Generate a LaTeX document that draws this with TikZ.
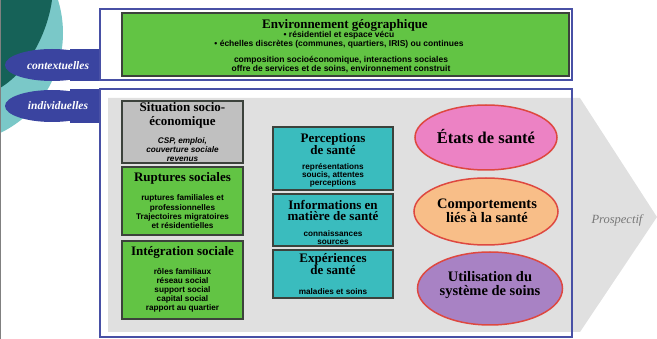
\documentclass[tikz,border=0pt]{standalone}
\usepackage{fontspec}
\setmainfont{Liberation Serif}
\newfontfamily\sansfam{Liberation Sans}
\usetikzlibrary{shapes.geometric}
\definecolor{tealdark}{RGB}{22,98,88}
\definecolor{teallight}{RGB}{122,200,200}
\definecolor{tabblue}{RGB}{58,68,160}
\definecolor{boxblue}{RGB}{72,80,165}
\definecolor{envgreen}{RGB}{98,196,68}
\definecolor{boxgray}{RGB}{192,192,192}
\definecolor{boxcyan}{RGB}{58,188,190}
\definecolor{arrowgray}{RGB}{224,224,224}
\definecolor{ellpink}{RGB}{236,130,196}
\definecolor{ellorange}{RGB}{248,190,136}
\definecolor{ellpurple}{RGB}{168,130,196}
\definecolor{ellborder}{RGB}{222,72,64}
\definecolor{boxedge}{RGB}{60,66,60}
\definecolor{progray}{RGB}{120,120,120}
\tikzset{
  panel/.style={draw=boxblue, line width=2.5pt, inner sep=0pt},
  cbox/.style={draw=boxedge, line width=1.1pt, inner sep=0pt},
  ttl/.style={font=\bfseries\fontsize{13}{14}\selectfont, align=center, inner sep=0pt},
  bdy/.style={font=\sansfam\bfseries\fontsize{8.2}{9}\selectfont, align=center, inner sep=0pt},
  ell/.style={ellipse, draw=ellborder, line width=1.5pt, inner sep=0pt},
  etxt/.style={font=\bfseries\fontsize{14.5}{13.5}\selectfont, align=center, inner sep=0pt},
  tabtxt/.style={font=\bfseries\itshape\fontsize{11.5}{12}\selectfont, text=white, inner sep=0pt}
}
\begin{document}
\begin{tikzpicture}[x=1pt,y=-1pt]
\useasboundingbox (0,0) rectangle (657,339);
% background decoration
\begin{scope}
\clip (0,0) rectangle (657,339);
\fill[teallight] (-48,33) circle (111);
\fill[tealdark] (0,0) -- (52,0) .. controls (48,30) and (30,70) .. (0,88) -- cycle;
\end{scope}
\draw[gray, line width=0.8pt] (0.8,0) -- (0.8,339);
% big gray arrow
\fill[arrowgray] (108,98) -- (580,98) -- (657,217) -- (580,332) -- (108,332) -- cycle;
\node[font=\itshape\fontsize{12.5}{13}\selectfont, text=progray, inner sep=0pt] (prosp) at (617,220) {Prospectif};
% tabs
\fill[tabblue] (52,65) ellipse [x radius=47, y radius=16];
\fill[tabblue] (70,49) rectangle (100,81);
\node[tabtxt] (ctxlab) at (58,66) {contextuelles};
\fill[tabblue] (52,106) ellipse [x radius=47, y radius=16];
\fill[tabblue] (70,89) rectangle (100,123);
\node[tabtxt] (indlab) at (58,106) {individuelles};
% environment box
\node[cbox, fill=envgreen, minimum width=447pt, minimum height=63pt] (env) at (345.5,44.5) {};
\node[ttl] (envt) at (345,25) {Environnement géographique};
\node[bdy, font=\sansfam\bfseries\fontsize{8.5}{9}\selectfont] (envb1) at (339,39.5) {• résidentiel et espace vécu\\• échelles discrètes (communes, quartiers, IRIS) ou continues};
\node[bdy, font=\sansfam\bfseries\fontsize{8.5}{9}\selectfont] (envb2) at (341,64.5) {composition socioéconomique, interactions sociales\\offre de services et de soins, environnement construit};
% left column
\node[cbox, fill=boxgray, minimum width=121pt, minimum height=62pt] (sit) at (182.5,132) {};
\node[ttl] (sitt) at (182.5,115) {Situation socio-\\économique};
\node[bdy, font=\sansfam\bfseries\itshape\fontsize{8.2}{9}\selectfont] (sitb) at (182.5,150) {CSP, emploi,\\couverture sociale\\revenus};
\node[cbox, fill=envgreen, minimum width=121pt, minimum height=68pt] (rup) at (182.5,201) {};
\node[ttl] (rupt) at (182.5,178) {Ruptures sociales};
\node[bdy, font=\sansfam\bfseries\fontsize{8.2}{9.3}\selectfont] (rupb) at (182.5,212) {ruptures familiales et\\professionnelles\\Trajectoires migratoires\\et résidentielles};
\node[cbox, fill=envgreen, minimum width=121pt, minimum height=78pt] (integ) at (182.5,280) {};
\node[ttl] (integt) at (182.5,252) {Intégration sociale};
\node[bdy] (integb) at (182.5,290) {rôles familiaux\\réseau social\\support social\\capital social\\rapport au quartier};
% middle column
\node[cbox, fill=boxcyan, minimum width=120pt, minimum height=63pt] (perc) at (333,158.5) {};
\node[ttl, font=\bfseries\fontsize{13}{12}\selectfont] (perct) at (333,144) {Perceptions\\de santé};
\node[bdy, font=\sansfam\bfseries\fontsize{8.2}{7.9}\selectfont] (percb) at (333,175.5) {représentations\\soucis, attentes\\perceptions};
\node[cbox, fill=boxcyan, minimum width=120pt, minimum height=52pt] (info) at (333,220) {};
\node[ttl, font=\bfseries\fontsize{13}{11.5}\selectfont] (infot) at (333,210.5) {Informations en\\matière de santé};
\node[bdy, font=\sansfam\bfseries\fontsize{8.2}{8.5}\selectfont] (infob) at (333,237.5) {connaissances\\sources};
\node[cbox, fill=boxcyan, minimum width=120pt, minimum height=48pt] (exp) at (333,274) {};
\node[ttl, font=\bfseries\fontsize{13}{10}\selectfont] (expt) at (333,264) {Expériences\\de santé};
\node[bdy] (expb) at (333,292) {maladies et soins};
% ellipses
\node[ell, fill=ellpink, minimum width=142pt, minimum height=65pt] (etat) at (486,137.5) {};
\node[etxt, font=\bfseries\fontsize{16.5}{13}\selectfont] (etatt) at (486,137) {États de santé};
\node[ell, fill=ellorange, minimum width=144pt, minimum height=67pt] (comp) at (486,211.5) {};
\node[etxt] (compt) at (487,211) {Comportements\\liés à la santé};
\node[ell, fill=ellpurple, minimum width=145pt, minimum height=73pt] (util) at (490,288.5) {};
\node[etxt] (utilt) at (490,285) {Utilisation du\\système de soins};
% panels
\node[panel, minimum width=472pt, minimum height=71pt] (ctxpanel) at (336,44.5) {};
\node[panel, minimum width=472pt, minimum height=248pt] (indpanel) at (336,213) {};
\end{tikzpicture}
\end{document}
